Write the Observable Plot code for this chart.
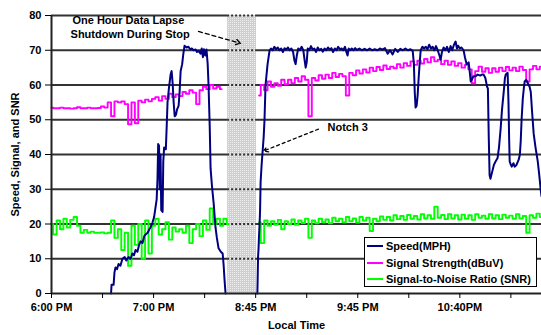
<!DOCTYPE html>
<html><head><meta charset="utf-8">
<script src="https://cdn.jsdelivr.net/npm/d3@7"></script>
<script src="https://cdn.jsdelivr.net/npm/@observablehq/plot@0.6"></script>
<style>
html,body{margin:0;padding:0;background:#fff;}
#wrap{position:relative;width:541px;height:335px;font-family:"Liberation Sans",Arial,sans-serif;}
.legend{position:absolute;left:364px;top:237px;width:171px;height:48px;border:1.5px solid #000;background:#fff;font-size:11px;font-weight:bold;color:#000;}
.legend .row{position:absolute;left:2px;height:16px;line-height:16px;white-space:nowrap;}
.legend .sw{display:inline-block;width:16px;height:2px;vertical-align:middle;margin-right:3px;margin-top:-2px;}
</style></head><body><div id="wrap"></div>
<script>
// ---- axis ticks / labels ----
const xTicks = [0, 60, 120, 180, 240];
const xTickLabels = ["6:00 PM", "7:00 PM", "8:45 PM", "9:45 PM", "10:40PM"];
const xMinorTicks = [30, 90, 150, 210, 270];
const yTicks = [0, 10, 20, 30, 40, 50, 60, 70, 80];
const gridVals = [10, 20, 30, 40, 50, 60, 70, 80];
const xMax = 288;
const gapStart = 103.5, gapEnd = 120.5;

// ---- series names / colours ----
const seriesNames = ["Speed(MPH)", "Signal Strength(dBuV)", "Signal-to-Noise Ratio (SNR)"];
const seriesColors = ["#000080", "#ff00ff", "#00ff00"];

// ---- Speed (MPH): before the data lapse ----
const speedA_t = [35.0,35.3,36.5,37.0,37.6,38.5,39.4,40.5,41.7,43,44,45.3,46.5,47.5,48.5,49.4,50.5,51.5,52.3,53.5,54.5,55.3,56.5,57.5,58.2,59.4,60.3,61.2,61.8,62.3,62.7,63.2,63.6,64.1,64.5,65.3,65.7,66.2,67.2,67.7,68.2,69,70,70.6,71.2,71.8,72.4,73.2,73.8,74.7,75.3,75.9,76.8,77.5,78.2,79.4,80.5,81.5,82.5,83.5,84.7,85.5,86.5,87.6,88.3,89.0,89.6,90.4,91.1,91.8,92.3,93,93.5,94.3,95.3,96.4,97.2,98.2,99.5,100.6,101.2,101.7,102.3];
const speedA_v = [0,2.5,2.5,6,7.5,7,8.5,8,10,10.5,9.5,10.5,10,11.5,11,12.5,12,14,15,14.5,16.5,17,17.5,18.5,19,20.5,22,25,27,33,43,42.5,30,40,24,23.5,38,42,41.5,48,55,59,63,64,60.5,55,51,51.5,53,54,58,64,66,69,71.3,70.8,71,70.3,70.5,70,70.2,69.5,69.8,69,70.5,68,70.3,68.5,70.2,66,60,48,36,31,26,19,16,13,12,11.5,8,4,0];
// ---- Speed (MPH): after the data lapse ----
const speedB_t = [121.0,121.2,121.4,121.7,122.0,122.3,122.6,122.9,123.5,124.1,124.7,125.2,125.8,126.4,127,127.6,128.2,129,130,131,132,133,134,135,136,137,138,139,140,141,142,142.8,143.5,144.2,145,146,147,148,148.8,149.4,150,150.6,151.5,152.5,153.5,154.5,155.5,156.5,157.5,158.5,159.5,160.5,161.5,162.5,163.5,164.5,165.5,166.5,167.5,168.5,169.5,170.5,171.5,172.5,173.3,174,174.7,175.5,176.5,177.5,178.5,179.5,181,182.5,184,185.5,187,188.5,190,191.5,193,194.5,196,197.6,199,200.5,202,203.5,205,206.5,208,209.5,211,212.3,213,213.5,214,214.6,215.2,215.8,216.5,217,218,219,220,221,222,223,224,225,226,227,228,228.7,229.5,230.5,231.5,232.5,233.5,234.6,235.5,236.5,237.5,238.3,239,240,241,242.2,243,244,245.2,246,246.4,247,248,249.3,250.5,252,253,254,255,256,256.5,257,257.5,258,259,260,261,262.2,263,264,264.8,265.8,266.5,267,268.1,268.6,269,269.3,270,270.5,271.5,272.2,273.3,274.6,275.3,275.8,276.3,277,277.6,278.1,279,280,281,281.7,282.5,283.4,284.5,285.8,286.7,287.5,288];
const speedB_v = [0,5,10.5,13,17,20,24,32,37,41,45,50,60,63,66,68,70,70.5,70,71,70.3,70.8,70,70.5,69.5,70.6,70.2,70.8,70,70.5,69.5,67,66,68.5,70.5,70,71,70,67,65,66.5,70.5,70,71.2,70.2,70.5,69.5,70.8,70,70.4,69.6,70.5,70,70.8,70.2,70.6,69.5,70.5,70,71,70.3,70.5,70,71,69.5,68.5,70.5,70,70.5,70,70.6,70.1,70.5,70,70.4,70,70.5,70,70.3,70,70.5,70.2,70.6,69,70,68.8,70.4,69.5,70.4,70,70.5,70,70.3,69.8,66,58,53.5,54,57,62,67,70,71,70.5,71,70.3,71.6,70.5,71,70,71.2,70,68.5,67.3,69.5,70.8,70,71,69.5,71.2,70,71.5,72.5,70.5,71.3,70.5,70.8,70,68,66,66.5,63,61,61.5,62.5,62.5,63,62.7,63,63,62,59.5,59,45,34,33,35,37,38,39,42,47.5,53,58,62,63,63.5,55,44,38,37,36.5,37.5,36.5,37,38.5,40,44,50,56,59,61,61.5,60.5,59.5,58,52,46,42,38,34,30,28];

// ---- Signal strength (dBuV) and SNR, sampled every 2 minutes ----
const sampleStep = 2;
const segAStart = 0;
const segBStart = 122;
const signalA = [53.5,53.3,53.3,53.5,53.3,53.3,53.2,53.3,53.6,53.3,53.3,53.5,53.3,53.3,53.4,53.8,53.5,55,51,55.3,55,55.3,54.5,48.7,55,49,55.5,55,55.8,55.3,56,56.5,55.5,56.8,56,57.5,56.5,57.3,56.8,58,57.5,58.5,57.8,54.5,58.5,59.5,58.8,60,59,59.5,58.8];
const signalB = [57,60,58.5,61,59.5,60.5,59.8,61.5,60.2,61.5,60.5,62,61,62.5,61.5,51,62,61.3,62.8,61.8,63,62,63.5,62.3,63.2,62.5,57,63.5,62.8,64.2,63.3,64.5,63.6,65,64,65.2,64.3,65.6,64.6,65.3,64.8,66,65,66.3,65.5,66.8,65.8,67,66.2,67.5,66.5,68,66.8,67.3,66,67,65.8,66.8,65.5,66.3,65,65.8,64.5,60.5,64,65.3,63.8,64.8,63.5,64.8,63.8,65,64,65.2,64.2,65,64,65.3,64.3,61,64.5,65.5,64.5,65.3];
const snrA = [20,17,21,18.5,21.5,19,21.2,22,19.5,17.5,18.3,17.5,17.8,17.5,17.5,17.6,17.3,17.5,21,16,18.5,12.5,17.5,8,19.5,14,20,10,21,11.5,19.5,21.5,17,18.5,20.5,15.5,19,17.8,18.5,17.5,19.5,14.5,18.5,20,16.5,21,18.3,24.5,20,21.5,19.5,21.5,20];
const snrB = [20.5,14.5,21,19.5,20.8,19.8,21.2,18.5,20.8,20,21.3,19.8,21,20.3,21.5,16,21,20.2,21.5,20.5,21.3,20.2,21.8,20.8,21.5,20.5,22,20.8,21.6,20.4,22,21,21.8,18,21.5,20.8,22.2,21.2,22,21,22.5,21.4,22.3,21.2,22.6,21.5,22.3,21.3,22.8,21.6,22.5,21.5,25,21.8,22.6,21.4,22.8,21.6,22.5,21.3,22.7,21.5,22.5,21.2,22.8,21.8,22.4,21.5,22.8,21.6,22.5,21.4,22.7,21.8,22.4,21.5,22.8,21.6,22.3,17.5,22.5,21.8,23,22];

// ---- annotations ----
const noteLapse = ["One Hour Data Lapse", "Shutdown During Stop"];
const noteLapseX = [12.3, 11.2];
const noteLapseY = [78.6, 74.6];
const noteLapseArrow = {x1: 86.4, y1: 75.4, x2: 111.1, y2: 72.0};
const noteNotch = "Notch 3";
const noteNotchXY = [162.2, 47.9];
const noteNotchArrow = {x1: 156.9, y1: 47.3, x2: 124.6, y2: 41.0};

// ---- build rows ----
const speedRows = [
  ...speedA_t.map((t, i) => ({t, v: speedA_v[i], seg: "a"})),
  ...speedB_t.map((t, i) => ({t, v: speedB_v[i], seg: "b"}))
];
const sampled = (arrA, arrB) => [
  ...arrA.map((v, i) => ({t: segAStart + i * sampleStep, v, seg: "a"})),
  ...arrB.map((v, i) => ({t: segBStart + i * sampleStep, v, seg: "b"}))
];
const signalRows = sampled(signalA, signalB);
const snrRows = sampled(snrA, snrB);

const chart = Plot.plot({
  width: 541, height: 335,
  marginLeft: 51, marginRight: 0, marginTop: 15, marginBottom: 42,
  style: {fontFamily: "'Liberation Sans', Arial, sans-serif", fontSize: "11px", fontWeight: "bold", background: "#fff", color: "#000"},
  x: {domain: [0, xMax]},
  y: {domain: [0, 80]},
  marks: [
    Plot.rect([0], {x1: gapStart, x2: gapEnd, y1: 0, y2: 80, fill: "url(#stipple)"}),
    Plot.ruleY(gridVals, {x1: 0, x2: gapStart, stroke: "#333", strokeWidth: 2}),
    Plot.ruleY(gridVals, {x1: gapEnd, x2: xMax, stroke: "#333", strokeWidth: 2}),
    Plot.ruleY(gridVals, {x1: gapStart, x2: gapEnd, stroke: "#333", strokeWidth: 2, strokeDasharray: "2,2"}),
    Plot.line(snrRows, {x: "t", y: "v", z: "seg", stroke: seriesColors[2], strokeWidth: 1.9, curve: "step"}),
    Plot.line(signalRows, {x: "t", y: "v", z: "seg", stroke: seriesColors[1], strokeWidth: 1.9, curve: "step"}),
    Plot.line(speedRows, {x: "t", y: "v", z: "seg", stroke: seriesColors[0], strokeWidth: 2}),
    Plot.ruleY([0], {stroke: "#222", strokeWidth: 2}),
    Plot.ruleX([0], {stroke: "#222", strokeWidth: 2}),
    Plot.axisY({ticks: yTicks, tickSize: 6, tickPadding: 4, label: "Speed, Signal, and SNR", labelAnchor: "center", labelOffset: 40, labelArrow: "none"}),
    Plot.axisX({ticks: xTicks, tickFormat: d => xTickLabels[xTicks.indexOf(d)], tickSize: 5, tickPadding: 5, label: "Local Time", labelAnchor: "center", labelOffset: 35, labelArrow: "none"}),
    Plot.axisX({ticks: xMinorTicks, tickFormat: () => "", tickSize: 5, label: null}),
    Plot.text(noteLapse, {x: (d, i) => noteLapseX[i], y: (d, i) => noteLapseY[i], textAnchor: "start", fontSize: 11, fontWeight: "bold"}),
    Plot.arrow([noteLapseArrow], {x1: "x1", y1: "y1", x2: "x2", y2: "y2", stroke: "#000", strokeWidth: 1.3, strokeDasharray: "4,3", headLength: 6}),
    Plot.text([noteNotch], {x: noteNotchXY[0], y: noteNotchXY[1], textAnchor: "start", fontSize: 11, fontWeight: "bold"}),
    Plot.arrow([noteNotchArrow], {x1: "x1", y1: "y1", x2: "x2", y2: "y2", stroke: "#000", strokeWidth: 1.3, strokeDasharray: "3,3", headLength: 6})
  ]
});

d3.select(chart).insert("defs", ":first-child").html(
  '<pattern id="stipple" width="2" height="2" patternUnits="userSpaceOnUse">' +
  '<rect width="2" height="2" fill="#cfcfcf"/><rect width="1" height="1" fill="#efefef"/></pattern>'
);

const wrap = document.getElementById("wrap");
wrap.appendChild(chart);

const legend = document.createElement("div");
legend.className = "legend";
seriesNames.forEach((name, i) => {
  const row = document.createElement("div");
  row.className = "row";
  row.style.top = (i * 16.5) + "px";
  const sw = document.createElement("span");
  sw.className = "sw";
  sw.style.background = seriesColors[i];
  row.appendChild(sw);
  row.appendChild(document.createTextNode(name));
  legend.appendChild(row);
});
wrap.appendChild(legend);
</script></body></html>
